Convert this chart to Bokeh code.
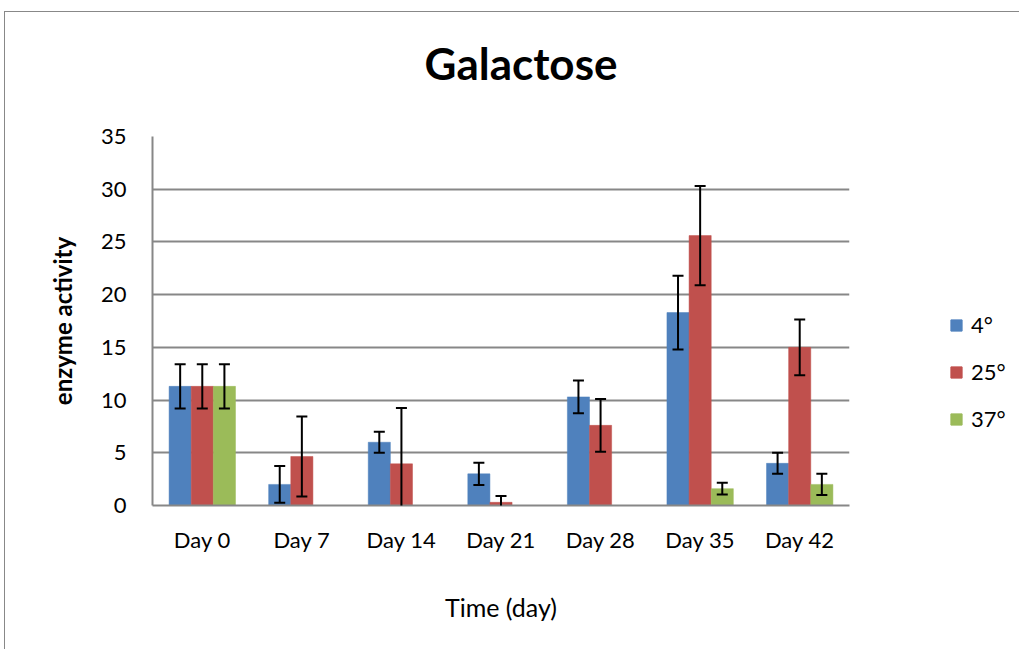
from bokeh.plotting import figure
from bokeh.layouts import row, column
from bokeh.models import FactorRange, ColumnDataSource, Whisker, TeeHead, Legend, LegendItem, Range1d
from bokeh.transform import dodge
from bokeh.embed import file_html
from bokeh.resources import INLINE

days = ["Day 0", "Day 7", "Day 14", "Day 21", "Day 28", "Day 35", "Day 42"]
series = ["4°", "25°", "37°"]
vals_4 = [11.3, 2.0, 6.0, 3.0, 10.3, 18.3, 4.0]
err_4 = [2.1, 1.75, 1.0, 1.05, 1.55, 3.5, 1.0]
vals_25 = [11.3, 4.65, 3.95, 0.3, 7.6, 25.6, 15.0]
err_25 = [2.1, 3.8, 5.3, 0.6, 2.5, 4.7, 2.65]
vals_37 = [11.3, 0.0, 0.0, 0.0, 0.0, 1.6, 2.0]
err_37 = [2.1, 0.0, 0.0, 0.0, 0.0, 0.55, 1.0]
colors = ["#4F81BD", "#C0504D", "#9BBB59"]
title_text = "Galactose"

FONT = "Lato"
GRID = "#878787"

# title strip
pt = figure(width=1014, height=110, output_backend="svg", toolbar_location=None,
            x_range=Range1d(0, 1), y_range=Range1d(0, 1),
            x_axis_type=None, y_axis_type=None, min_border=0, title=title_text)
pt.grid.grid_line_color = None
pt.outline_line_color = None
pt.title.align = "left"
pt.title.offset = 419
pt.title.text_font = FONT
pt.title.text_font_size = "44px"
pt.title.text_font_style = "bold"
pt.title.text_color = "black"
pt.title.standoff = 44

p = figure(x_range=FactorRange(factors=days, range_padding=0), y_range=(0, 35),
           width=864, height=527, output_backend="svg", toolbar_location=None,
           min_border_left=147, min_border_right=20,
           min_border_top=14, min_border_bottom=144)

bw = 1 / 4.5
offsets = [-bw, 0.0, bw]
all_vals = [vals_4, vals_25, vals_37]
all_errs = [err_4, err_25, err_37]
sources = []
for name, v, e, c, off in zip(series, all_vals, all_errs, colors, offsets):
    src = ColumnDataSource(dict(day=days, val=v))
    sources.append(src)
    p.vbar(x=dodge("day", off, range=p.x_range), top="val", width=bw, source=src,
           fill_color=c, line_color=c, line_width=0.5)
    has_err = [i for i in range(len(days)) if e[i] > 0]
    esrc = ColumnDataSource(dict(day=[days[i] for i in has_err],
                                 upper=[v[i] + e[i] for i in has_err],
                                 lower=[v[i] - e[i] for i in has_err]))
    w = Whisker(base=dodge("day", off, range=p.x_range), upper="upper", lower="lower",
                source=esrc, line_color="black", line_width=2, level="overlay",
                upper_head=TeeHead(size=11, line_width=2, line_color="black"),
                lower_head=TeeHead(size=11, line_width=2, line_color="black"))
    p.add_layout(w)

p.yaxis.ticker = [0, 5, 10, 15, 20, 25, 30, 35]
p.xgrid.grid_line_color = None
p.ygrid.grid_line_color = GRID
p.ygrid.grid_line_width = 1.8
p.outline_line_color = None

for ax in (p.xaxis[0], p.yaxis[0]):
    ax.axis_line_color = GRID
    ax.axis_line_width = 2
    ax.major_tick_line_color = None
    ax.minor_tick_line_color = None
    ax.major_tick_out = 0
    ax.major_tick_in = 0
    ax.major_label_text_font = FONT
    ax.major_label_text_font_size = "22px"
    ax.major_label_text_color = "black"
    ax.axis_label_text_font = FONT
    ax.axis_label_text_color = "black"

p.yaxis.axis_label = "enzyme activity"
p.yaxis.axis_label_text_font_style = "bold"
p.yaxis.axis_label_text_font_size = "24px"
p.yaxis.major_label_standoff = 26
p.yaxis.axis_label_standoff = 21

p.xaxis.axis_label = "Time (day)"
p.xaxis.axis_label_text_font_style = "normal"
p.xaxis.axis_label_text_font_size = "25px"
p.xaxis.major_label_standoff = 20
p.xaxis.axis_label_standoff = 36

# legend panel to the right of the chart (same series, hidden glyphs)
pl = figure(width=150, height=527, output_backend="svg", toolbar_location=None,
            x_range=FactorRange(factors=days), y_range=Range1d(0, 35),
            x_axis_type=None, y_axis_type=None, min_border_left=0, min_border_right=0,
            min_border_top=14, min_border_bottom=144)
pl.grid.grid_line_color = None
pl.outline_line_color = None
items = []
for name, src, c, off in zip(series, sources, colors, offsets):
    r = pl.vbar(x=dodge("day", off, range=pl.x_range), top="val", width=bw, source=src,
                fill_color=c, line_color=c, visible=False)
    items.append(LegendItem(label=name, renderers=[r]))
lg = Legend(items=items, location=(80, 73))
lg.border_line_color = None
lg.background_fill_alpha = 0
lg.padding = 0
lg.margin = 0
lg.spacing = 20
lg.glyph_width = 14
lg.glyph_height = 14
lg.label_height = 20
lg.label_standoff = 8
lg.label_text_font = FONT
lg.label_text_font_size = "22px"
lg.label_text_color = "black"
pl.add_layout(lg)

layout = column(pt, row(p, pl))
layout.styles = {"margin-left": "4px", "margin-top": "11px",
                 "border-left": "1px solid #888888", "border-top": "1px solid #888888"}

open("out.html", "w").write(file_html(layout, INLINE))
